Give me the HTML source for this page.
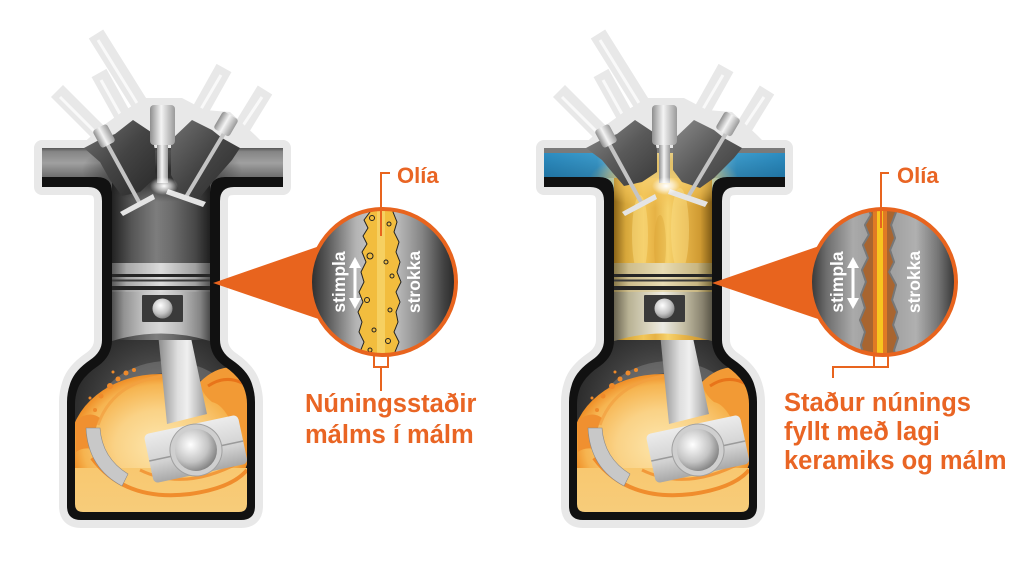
<!DOCTYPE html>
<html><head><meta charset="utf-8"><style>
html,body{margin:0;padding:0;background:#fff;}
svg{display:block;}
text{font-family:"Liberation Sans",Arial,sans-serif;font-weight:bold;}
</style></head><body>
<svg xmlns="http://www.w3.org/2000/svg" xmlns:xlink="http://www.w3.org/1999/xlink" width="1024" height="561" viewBox="0 0 1024 561">
<defs>
<linearGradient id="gBarL" gradientUnits="userSpaceOnUse" x1="0" y1="148" x2="0" y2="178">
<stop offset="0" stop-color="#555"/><stop offset=".12" stop-color="#858585"/><stop offset=".5" stop-color="#a0a0a0"/><stop offset="1" stop-color="#6a6a6a"/></linearGradient>
<linearGradient id="gBarR" gradientUnits="userSpaceOnUse" x1="42" y1="0" x2="283" y2="0">
<stop offset="0" stop-color="#2d8fc4"/><stop offset=".22" stop-color="#3e9fd0"/><stop offset=".3" stop-color="#8ccbe2"/><stop offset=".4" stop-color="#f0d488"/><stop offset=".6" stop-color="#f0d488"/><stop offset=".7" stop-color="#8ccbe2"/><stop offset=".8" stop-color="#3e9fd0"/><stop offset="1" stop-color="#2d8fc4"/></linearGradient>
<linearGradient id="gShadeV" gradientUnits="userSpaceOnUse" x1="0" y1="150" x2="0" y2="178">
<stop offset="0" stop-color="#003050" stop-opacity="0"/><stop offset="1" stop-color="#003050" stop-opacity=".3"/></linearGradient>
<radialGradient id="gDark"><stop offset="0" stop-color="#1e1e1e" stop-opacity=".9"/><stop offset=".55" stop-color="#1e1e1e" stop-opacity=".55"/><stop offset="1" stop-color="#1e1e1e" stop-opacity="0"/></radialGradient>
<radialGradient id="gYel"><stop offset="0" stop-color="#f6d37a" stop-opacity=".95"/><stop offset=".6" stop-color="#f3c55a" stop-opacity=".6"/><stop offset="1" stop-color="#f3c55a" stop-opacity="0"/></radialGradient>
<linearGradient id="gChL" x1="0" y1="0" x2="1" y2="0">
<stop offset="0" stop-color="#222"/><stop offset=".2" stop-color="#555"/><stop offset=".45" stop-color="#7d7d7d"/><stop offset=".6" stop-color="#6e6e6e"/><stop offset=".85" stop-color="#474747"/><stop offset="1" stop-color="#202020"/></linearGradient>
<linearGradient id="gChR" x1="0" y1="0" x2="1" y2="0">
<stop offset="0" stop-color="#8a6418"/><stop offset=".12" stop-color="#d6a63a"/><stop offset=".3" stop-color="#f2c658"/><stop offset=".42" stop-color="#e6b245"/><stop offset=".55" stop-color="#f6d26c"/><stop offset=".7" stop-color="#e8b64a"/><stop offset=".88" stop-color="#cf9a32"/><stop offset="1" stop-color="#805c16"/></linearGradient>
<linearGradient id="gPisL" x1="0" y1="0" x2="1" y2="0">
<stop offset="0" stop-color="#4e4e4e"/><stop offset=".12" stop-color="#929292"/><stop offset=".35" stop-color="#c8c8c8"/><stop offset=".5" stop-color="#d8d8d8"/><stop offset=".7" stop-color="#bcbcbc"/><stop offset=".9" stop-color="#858585"/><stop offset="1" stop-color="#4a4a4a"/></linearGradient>
<linearGradient id="gRingL" x1="0" y1="0" x2="1" y2="0">
<stop offset="0" stop-color="#5a5a5a"/><stop offset=".15" stop-color="#a8a8a8"/><stop offset=".5" stop-color="#dcdcdc"/><stop offset=".85" stop-color="#a0a0a0"/><stop offset="1" stop-color="#555"/></linearGradient>
<linearGradient id="gPisR" x1="0" y1="0" x2="1" y2="0">
<stop offset="0" stop-color="#6a6450"/><stop offset=".15" stop-color="#b8b294"/><stop offset=".4" stop-color="#e2ddca"/><stop offset=".5" stop-color="#ecebe4"/><stop offset=".7" stop-color="#c8c2a8"/><stop offset=".9" stop-color="#8a8470"/><stop offset="1" stop-color="#5a5648"/></linearGradient>
<linearGradient id="gRingR" x1="0" y1="0" x2="1" y2="0">
<stop offset="0" stop-color="#8a7a4a"/><stop offset=".15" stop-color="#cdbd8c"/><stop offset=".5" stop-color="#e8dcb4"/><stop offset=".85" stop-color="#c8b682"/><stop offset="1" stop-color="#7a6a3a"/></linearGradient>
<linearGradient id="gPlug" x1="0" y1="0" x2="1" y2="0">
<stop offset="0" stop-color="#8e8e8e"/><stop offset=".45" stop-color="#f4f4f4"/><stop offset="1" stop-color="#9a9a9a"/></linearGradient>
<linearGradient id="gBlk" x1="0" y1="0" x2="1" y2="1">
<stop offset="0" stop-color="#707070"/><stop offset=".5" stop-color="#444"/><stop offset="1" stop-color="#2a2a2a"/></linearGradient>
<linearGradient id="gBlkR" x1="0" y1="0" x2="1" y2="1">
<stop offset="0" stop-color="#8a8a8a"/><stop offset=".5" stop-color="#5a5a5a"/><stop offset="1" stop-color="#3a3a3a"/></linearGradient>
<radialGradient id="gCrank" cx="0.5" cy="0.45" r="0.6">
<stop offset="0" stop-color="#707070"/><stop offset=".6" stop-color="#3c3c3c"/><stop offset="1" stop-color="#1c1c1c"/></radialGradient>
<radialGradient id="gOil" cx="0.5" cy="0.5" r="0.5">
<stop offset="0" stop-color="#fde6ac"/><stop offset=".5" stop-color="#fad286"/><stop offset=".85" stop-color="#f6b450"/><stop offset="1" stop-color="#ef8e26"/></radialGradient>
<linearGradient id="gOilB" x1="0" y1="0" x2="0" y2="1">
<stop offset="0" stop-color="#f8c870"/><stop offset="1" stop-color="#f7cc7a"/></linearGradient>
<linearGradient id="gRod" x1="0" y1="0" x2="1" y2="0">
<stop offset="0" stop-color="#8a8a8a"/><stop offset=".4" stop-color="#dedede"/><stop offset=".6" stop-color="#efefef"/><stop offset="1" stop-color="#9a9a9a"/></linearGradient>
<linearGradient id="gBlock" x1="0" y1="0" x2="0" y2="1">
<stop offset="0" stop-color="#ececec"/><stop offset=".6" stop-color="#d2d2d2"/><stop offset="1" stop-color="#a8a8a8"/></linearGradient>
<radialGradient id="gPin" cx=".4" cy=".35" r=".7">
<stop offset="0" stop-color="#ffffff"/><stop offset=".6" stop-color="#c4c4c4"/><stop offset="1" stop-color="#7a7a7a"/></radialGradient>
<radialGradient id="gGlow"><stop offset="0" stop-color="#fff" stop-opacity="1"/><stop offset=".5" stop-color="#fff" stop-opacity=".6"/><stop offset="1" stop-color="#fff" stop-opacity="0"/></radialGradient>
<linearGradient id="gC1" x1="0" y1="0" x2="1" y2="0">
<stop offset="0" stop-color="#252525"/><stop offset=".14" stop-color="#5e5e5e"/><stop offset=".32" stop-color="#b4b4b4"/><stop offset=".42" stop-color="#c4c4c4"/><stop offset=".6" stop-color="#b8b8b8"/><stop offset=".76" stop-color="#858585"/><stop offset=".9" stop-color="#444"/><stop offset="1" stop-color="#222"/></linearGradient>
<linearGradient id="gC2" x1="0" y1="0" x2="1" y2="0">
<stop offset="0" stop-color="#2c2c2c"/><stop offset=".12" stop-color="#6c6c6c"/><stop offset=".3" stop-color="#aaaaaa"/><stop offset=".45" stop-color="#9c9c9c"/><stop offset=".58" stop-color="#a2a2a2"/><stop offset=".72" stop-color="#b0b0b0"/><stop offset=".87" stop-color="#747474"/><stop offset="1" stop-color="#2a2a2a"/></linearGradient>

<clipPath id="clipI"><path d="M42,148 H283 V177 H225 Q210,177 210,192 V350 H112 V192 Q112,177 97,177 H42 Z"/></clipPath>
<clipPath id="clipC"><path d="M112,340 Q112,356 98,366 Q83,376 78,388 Q75,396 75,404 V504 Q75,512 83,512 H239 Q247,512 247,504 V404 Q247,396 244,388 Q239,376 224,366 Q210,356 210,340 Z"/></clipPath>
<clipPath id="cc1"><circle cx="383" cy="282" r="72"/></clipPath>
<clipPath id="cc2"><circle cx="883" cy="282" r="72"/></clipPath>

<g id="shell">
 <g stroke="#e8e8e8" stroke-width="17">
  <line x1="96" y1="34" x2="146" y2="114"/>
  <line x1="99" y1="73" x2="124" y2="118"/>
  <line x1="57" y1="91" x2="102" y2="136"/>
  <line x1="224" y1="68" x2="196" y2="118"/>
  <line x1="265" y1="90" x2="238" y2="134"/>
 </g>
 <g stroke="#f9f9f9" stroke-width="3">
  <line x1="98" y1="40" x2="140" y2="108"/>
  <line x1="101" y1="80" x2="120" y2="114"/>
  <line x1="60" y1="97" x2="96" y2="133"/>
  <line x1="221" y1="75" x2="198" y2="114"/>
  <line x1="262" y1="97" x2="240" y2="130"/>
 </g>
 <polygon points="78,148 100,128 122,112 145,98 182,98 205,110 230,112 255,135 268,148" fill="#e8e8e8"/>
 <path d="M42,148 H283 V187 H234 Q220,187 220,201 V340 Q220,352 232,360 Q248,371 252,384 Q255,393 255,402 V506 Q255,520 241,520 H81 Q67,520 67,506 V402 Q67,393 70,384 Q74,371 90,360 Q102,352 102,340 V201 Q102,187 88,187 H42 Z" fill="#e8e8e8" stroke="#e8e8e8" stroke-width="16" stroke-linejoin="round"/>
 <path d="M42,148 H283 V187 H234 Q220,187 220,201 V340 Q220,352 232,360 Q248,371 252,384 Q255,393 255,402 V506 Q255,520 241,520 H81 Q67,520 67,506 V402 Q67,393 70,384 Q74,371 90,360 Q102,352 102,340 V201 Q102,187 88,187 H42 Z" fill="#111"/>
</g>

<g id="crank" clip-path="url(#clipC)">
 <rect x="70" y="330" width="182" height="190" fill="url(#gCrank)"/>
 <ellipse cx="168" cy="425" rx="70" ry="58" fill="none" stroke="#9a9a9a" stroke-opacity=".35" stroke-width="12"/>
 <ellipse cx="160" cy="446" rx="90" ry="72" fill="url(#gOil)"/>
 <rect x="75" y="468" width="172" height="44" fill="url(#gOilB)"/>
 <path d="M200,382 Q218,364 240,368 Q252,374 250,392 L250,445 Q240,424 230,420 Q222,404 212,402 Q202,394 200,382 Z" fill="#f29a35"/>
 <path d="M208,386 Q226,374 244,384" stroke="#e8741a" stroke-width="3" fill="none"/>
 <path d="M76,420 Q90,410 100,418 Q92,432 96,450 Q84,446 76,452 Z" fill="#f09030"/>
 <g fill="#ef8a2a">
  <circle cx="110" cy="386" r="3"/><circle cx="118" cy="379" r="2.5"/><circle cx="126" cy="373" r="2.5"/><circle cx="134" cy="370" r="2"/><circle cx="101" cy="396" r="2.5"/><circle cx="95" cy="410" r="2"/><circle cx="113" cy="372" r="1.5"/><circle cx="90" cy="398" r="1.5"/>
 </g>
 <path d="M92,458 Q125,502 190,494 Q232,488 247,470" stroke="#ee7d1c" stroke-width="4" fill="none" opacity=".8"/>
 <path d="M140,470 Q185,492 240,462" stroke="#ef8424" stroke-width="3" fill="none" opacity=".7"/>
 <path d="M98,425 Q112,384 162,376" stroke="#f2a040" stroke-width="3" fill="none" opacity=".7"/>
 <path d="M86,428 Q88,468 122,486 L128,474 Q102,458 100,428 Z" fill="#c8c8c8" stroke="#8a8a8a" stroke-width=".6"/>
 <polygon points="158,333 190,333 207,414 167,424" fill="url(#gRod)"/>
 <g transform="rotate(-12 196 450)">
  <rect x="148" y="424" width="96" height="50" rx="5" fill="url(#gBlock)"/>
  <line x1="148" y1="451" x2="244" y2="451" stroke="#9a9a9a" stroke-width="1.5"/>
  <circle cx="196" cy="450" r="26" fill="#cfcfcf" stroke="#a0a0a0"/>
  <circle cx="196" cy="450" r="21" fill="url(#gPin)"/>
 </g>
</g>

<g id="headparts">
 <line x1="105" y1="140" x2="139" y2="202" stroke="#c4c4c4" stroke-width="4"/>
 <line x1="226" y1="130" x2="186" y2="197" stroke="#c4c4c4" stroke-width="4"/>
 <path d="M120,212 L153,194 L155,199 L123,216 Z" fill="#e4e4e4"/>
 <path d="M168,189 L206,202 L203,207 L166,194 Z" fill="#e4e4e4"/>
 <rect x="96" y="126" width="16" height="20" rx="3" transform="rotate(-28 104 136)" fill="url(#gPlug)"/>
 <rect x="217" y="114" width="18" height="20" rx="3" transform="rotate(30 226 124)" fill="url(#gPlug)"/>
 <rect x="157" y="143" width="11" height="40" fill="url(#gPlug)"/>
 <rect x="150" y="105" width="25" height="40" rx="4" fill="url(#gPlug)"/>
 <ellipse cx="164" cy="186" rx="14" ry="9" fill="url(#gGlow)"/>
</g>

<g id="pistonbits">
 <rect x="112" y="274" width="98" height="3" fill="#262626"/>
 <rect x="112" y="279.5" width="98" height="2" fill="#3a3a3a"/>
 <rect x="112" y="286" width="98" height="4" fill="#262626"/>
 <rect x="142" y="295" width="41" height="27" rx="1" fill="#3a3a3a"/>
 <circle cx="162.5" cy="308.5" r="10" fill="url(#gPin)"/>
</g>
</defs>

<rect width="1024" height="561" fill="#fff"/>

<!-- LEFT ENGINE -->
<g>
 <use xlink:href="#shell"/>
 <path d="M42,148 H283 V177 H225 Q210,177 210,192 V350 H112 V192 Q112,177 97,177 H42 Z" fill="url(#gBarL)"/>
 <rect x="112" y="178" width="98" height="172" fill="url(#gChL)"/>
 <g clip-path="url(#clipI)">
  <ellipse cx="162" cy="170" rx="80" ry="32" fill="url(#gDark)"/>
 </g>
 <polygon points="84,148 99,140 115,134 133,120 151,132 155,150 155,178 140,192 122,196 110,180 100,162" fill="url(#gBlk)"/>
 <polygon points="171,140 192,120 212,130 222,138 240,148 232,160 210,185 198,200 180,192 171,175" fill="url(#gBlk)"/>
 <use xlink:href="#crank"/>
 <path d="M112,263 H210 V341 Q161,326 112,341 Z" fill="url(#gPisL)"/>
 <rect x="112" y="263" width="98" height="29" fill="url(#gRingL)"/>
 <use xlink:href="#pistonbits"/>
 <use xlink:href="#headparts"/>
</g>

<!-- RIGHT ENGINE -->
<g transform="translate(502,0)">
 <use xlink:href="#shell"/>
 <path d="M42,148 H283 V177 H225 Q210,177 210,192 V350 H112 V192 Q112,177 97,177 H42 Z" fill="url(#gBarR)"/>
 <rect x="42" y="150" width="241" height="28" fill="url(#gShadeV)" clip-path="url(#clipI)"/>
 <rect x="42" y="148" width="241" height="5" fill="#7a7a7a"/>
 <rect x="112" y="178" width="98" height="172" fill="url(#gChR)"/>
 <g clip-path="url(#clipI)">
  <ellipse cx="162" cy="180" rx="75" ry="28" fill="url(#gYel)"/>
  <ellipse cx="138" cy="235" rx="8" ry="40" fill="#fbe08a" opacity=".45"/>
  <ellipse cx="178" cy="230" rx="9" ry="42" fill="#fbe08a" opacity=".45"/>
  <ellipse cx="158" cy="245" rx="6" ry="30" fill="#d9a233" opacity=".35"/>
 </g>
 <polygon points="84,148 99,140 115,134 133,120 151,132 155,150 155,172 140,182 122,186 110,172 100,160" fill="url(#gBlkR)"/>
 <polygon points="171,140 192,120 212,130 222,138 240,148 232,158 212,178 198,188 180,182 171,170" fill="url(#gBlkR)"/>
 <use xlink:href="#crank"/>
 <path d="M112,263 H210 V341 Q161,326 112,341 Z" fill="url(#gPisR)"/>
 <rect x="112" y="263" width="98" height="29" fill="url(#gRingR)"/>
 <use xlink:href="#pistonbits"/>
 <use xlink:href="#headparts"/>
</g>

<!-- LEFT MAGNIFIER -->
<polygon points="213,283 383,224 383,341" fill="#e8641e"/>
<g clip-path="url(#cc1)">
 <rect x="308" y="207" width="150" height="150" fill="url(#gC1)"/>
 <path d="M366,205 L370,212 L364,220 L368,228 L363,236 L367,244 L362,252 L366,262 L361,272 L364,282 L359,292 L363,302 L358,312 L362,322 L359,332 L364,342 L360,352 L363,362 L398,362 L395,352 L399,342 L394,332 L398,322 L396,312 L400,302 L396,292 L401,282 L397,272 L400,262 L396,252 L399,242 L394,232 L397,222 L393,212 L396,205 Z" fill="#f2bd3e" stroke="#222" stroke-width="1"/>
 <rect x="377" y="205" width="8" height="160" fill="#f8d870" opacity=".7"/>
 <g fill="none" stroke="#222" stroke-width="1">
  <circle cx="372" cy="218" r="2.5"/><circle cx="389" cy="224" r="2"/><circle cx="370" cy="256" r="3"/><circle cx="386" cy="262" r="2"/><circle cx="392" cy="276" r="2"/><circle cx="367" cy="300" r="2.5"/><circle cx="390" cy="310" r="2"/><circle cx="374" cy="330" r="2"/><circle cx="388" cy="341" r="2.5"/><circle cx="370" cy="350" r="2"/>
 </g>
 <line x1="355" y1="266" x2="355" y2="300" stroke="#fff" stroke-width="3"/>
 <polygon points="355,257 349,268 361,268" fill="#fff"/>
 <polygon points="355,309 349,298 361,298" fill="#fff"/>
 <text x="0" y="0" font-size="17.5" fill="#fff" text-anchor="middle" transform="translate(345,282) rotate(-90)">stimpla</text>
 <text x="0" y="0" font-size="17.5" fill="#fff" text-anchor="middle" transform="translate(420,282) rotate(-90)">strokka</text>
</g>
<circle cx="383" cy="282" r="73" fill="none" stroke="#e8641e" stroke-width="4"/>
<g stroke="#e8641e" stroke-width="2" fill="none">
 <polyline points="390,173 381,173 381,236"/>
 <polyline points="374,356 374,367 388,367 388,356"/>
 <line x1="381" y1="367" x2="381" y2="391"/>
</g>

<!-- RIGHT MAGNIFIER -->
<polygon points="712,283 883,224 883,341" fill="#e8641e"/>
<g clip-path="url(#cc2)">
 <rect x="808" y="207" width="150" height="150" fill="url(#gC2)"/>
 <path d="M868,205 L872,215 L866,225 L870,235 L864,245 L869,258 L863,270 L867,282 L862,295 L866,308 L861,320 L866,332 L862,345 L866,362 L896,362 L893,350 L897,338 L892,325 L896,312 L891,300 L895,285 L888,272 L893,262 L889,250 L894,238 L890,225 L895,212 L892,205 Z" fill="#a86530" stroke="#777" stroke-width="4" stroke-linejoin="round"/>
 <path d="M868,205 L872,215 L866,225 L870,235 L864,245 L869,258 L863,270 L867,282 L862,295 L866,308 L861,320 L866,332 L862,345 L866,362 L896,362 L893,350 L897,338 L892,325 L896,312 L891,300 L895,285 L888,272 L893,262 L889,250 L894,238 L890,225 L895,212 L892,205 Z" fill="#a86530"/>
 <rect x="873" y="205" width="14" height="160" fill="#e07a24"/>
 <rect x="877" y="205" width="6" height="160" fill="#f7c520"/>
 <line x1="853" y1="266" x2="853" y2="300" stroke="#fff" stroke-width="3"/>
 <polygon points="853,257 847,268 859,268" fill="#fff"/>
 <polygon points="853,309 847,298 859,298" fill="#fff"/>
 <text x="0" y="0" font-size="17.5" fill="#fff" text-anchor="middle" transform="translate(843,282) rotate(-90)">stimpla</text>
 <text x="0" y="0" font-size="17.5" fill="#fff" text-anchor="middle" transform="translate(920,282) rotate(-90)">strokka</text>
</g>
<circle cx="883" cy="282" r="73" fill="none" stroke="#e8641e" stroke-width="4"/>
<g stroke="#e8641e" stroke-width="2" fill="none">
 <polyline points="889,173 881,173 881,228"/>
 <polyline points="833,378 833,367 888,367 888,356"/>
 <line x1="874" y1="356" x2="874" y2="367"/>
</g>

<!-- LABELS -->
<g fill="#e96524">
 <text x="397" y="183" font-size="22">Olía</text>
 <text x="897" y="183" font-size="22">Olía</text>
 <text x="305" y="412" font-size="25.5">Núningsstaðir</text>
 <text x="305" y="443" font-size="25.5">málms í málm</text>
 <text x="784" y="411" font-size="25.5">Staður núnings</text>
 <text x="784" y="440" font-size="25.5">fyllt með lagi</text>
 <text x="784" y="469" font-size="25.5">keramiks og málm</text>
</g>
</svg>
</body></html>
